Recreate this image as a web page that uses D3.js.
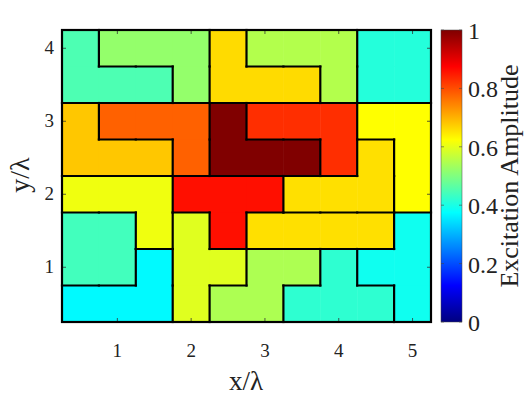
<!DOCTYPE html>
<html>
<head>
<meta charset="utf-8">
<script src="https://cdn.jsdelivr.net/npm/d3@7"></script>
<style>
  body { margin: 0; background: #fff; }
  text { font-family: "Liberation Serif", "DejaVu Serif", serif; fill: #222; }
</style>
</head>
<body>
<div id="chart-area"></div>
<script>
// tile layout, one letter per 0.5 lambda cell, top row first
var layout = [
  "ABBBCDDDEE",
  "AAABCCCDEE",
  "FGGGHIIIJJ",
  "FFFGHHHIKJ",
  "LLLMMMKKKJ",
  "NNLOMPPPPS",
  "NNQOORRTSS",
  "QQQORRTTTS"
];
var regionIds  = ["A","B","C","D","E","F","G","H","I","J","K","L","M","N","O","P","Q","R","S","T"];
var amplitudes = [0.45,0.52,0.66,0.55,0.41,0.68,0.78,1.0,0.83,0.625,0.655,0.61,0.86,0.44,0.595,0.655,0.37,0.545,0.39,0.42];

var xTicks = [1, 2, 3, 4, 5];
var yTicks = [1, 2, 3, 4];
var cbTicks = [0, 0.2, 0.4, 0.6, 0.8, 1];
var cbTickLabels = ["0", "0.2", "0.4", "0.6", "0.8", "1"];

var width = 532, height = 399;
var cellSize = 0.5, x0 = 0.25, y0 = 4.25;

// MATLAB style jet colormap
function jet(v) {
  var c = function(t) { return Math.round(255 * Math.max(0, Math.min(1, t))); };
  var r = Math.min(4*v - 1.5, -4*v + 4.5),
      g = Math.min(4*v - 0.5, -4*v + 3.5),
      b = Math.min(4*v + 0.5, -4*v + 2.5);
  return "rgb(" + c(r) + "," + c(g) + "," + c(b) + ")";
}

var ampOf = {};
regionIds.forEach((id, i) => { ampOf[id] = amplitudes[i]; });

var xScale = d3.scaleLinear().domain([0.25, 5.25]).range([62, 431]);
var yScale = d3.scaleLinear().domain([0.25, 4.25]).range([322, 30]);
var cbScale = d3.scaleLinear().domain([0, 1]).range([322, 30]);

var svg = d3.select("#chart-area")
    .append("svg")
    .attr("width", width)
    .attr("height", height);

// cells
var cells = [];
layout.forEach((row, r) => {
  row.split("").forEach((id, c) => {
    cells.push({ r: r, c: c, id: id });
  });
});

svg.append("g").selectAll("rect")
  .data(cells)
  .enter().append("rect")
  .attr("x", d => xScale(x0 + d.c*cellSize))
  .attr("y", d => yScale(y0 - d.r*cellSize))
  .attr("width", d => xScale(x0 + (d.c+1)*cellSize) - xScale(x0 + d.c*cellSize) + 0.5)
  .attr("height", d => yScale(y0 - (d.r+1)*cellSize) - yScale(y0 - d.r*cellSize) + 0.5)
  .attr("fill", d => jet(ampOf[d.id]));

// tile borders where neighbouring cells differ
var segs = [];
cells.forEach(d => {
  var xl = x0 + d.c*cellSize, xr = xl + cellSize;
  var yt = y0 - d.r*cellSize, yb = yt - cellSize;
  if (d.c < 9 && layout[d.r][d.c+1] !== d.id) segs.push([xr, yt, xr, yb]);
  if (d.r < 7 && layout[d.r+1][d.c] !== d.id) segs.push([xl, yb, xr, yb]);
});

// axis ticks (inside)
var tickG = svg.append("g").attr("stroke", "#333").attr("stroke-width", 0.8);
xTicks.forEach(t => {
  tickG.append("line").attr("x1", xScale(t)).attr("x2", xScale(t)).attr("y1", 322).attr("y2", 318);
  tickG.append("line").attr("x1", xScale(t)).attr("x2", xScale(t)).attr("y1", 30).attr("y2", 34);
});
yTicks.forEach(t => {
  tickG.append("line").attr("y1", yScale(t)).attr("y2", yScale(t)).attr("x1", 62).attr("x2", 66);
  tickG.append("line").attr("y1", yScale(t)).attr("y2", yScale(t)).attr("x1", 431).attr("x2", 427);
});

svg.append("g").selectAll("line")
  .data(segs)
  .enter().append("line")
  .attr("x1", d => xScale(d[0])).attr("y1", d => yScale(d[1]))
  .attr("x2", d => xScale(d[2])).attr("y2", d => yScale(d[3]))
  .attr("stroke", "#000")
  .attr("stroke-width", 2.2)
  .attr("stroke-linecap", "square");

svg.append("rect")
  .attr("x", 62).attr("y", 30)
  .attr("width", 431 - 62).attr("height", 322 - 30)
  .attr("fill", "none")
  .attr("stroke", "#000")
  .attr("stroke-width", 2.2);

// tick labels
svg.append("g").selectAll("text")
  .data(xTicks).enter().append("text")
  .attr("x", d => xScale(d))
  .attr("y", 357)
  .attr("text-anchor", "middle")
  .attr("font-size", "19px")
  .text(d => d);

svg.append("g").selectAll("text")
  .data(yTicks).enter().append("text")
  .attr("x", 54)
  .attr("y", d => yScale(d) + 6)
  .attr("text-anchor", "end")
  .attr("font-size", "19px")
  .text(d => d);

// axis labels
svg.append("text")
  .attr("x", 246).attr("y", 390)
  .attr("text-anchor", "middle")
  .attr("font-size", "27px")
  .text("x/\u03bb");

svg.append("text")
  .attr("transform", "translate(29,175) rotate(-90)")
  .attr("text-anchor", "middle")
  .attr("font-size", "28px")
  .text("y/\u03bb");

// colorbar
var defs = svg.append("defs");
var grad = defs.append("linearGradient")
  .attr("id", "jetGrad")
  .attr("x1", 0).attr("y1", 1).attr("x2", 0).attr("y2", 0);
d3.range(0, 65).forEach(i => {
  var v = i / 64;
  grad.append("stop").attr("offset", v).attr("stop-color", jet(v));
});

svg.append("rect")
  .attr("x", 441).attr("y", cbScale(1))
  .attr("width", 21).attr("height", cbScale(0) - cbScale(1))
  .attr("fill", "url(#jetGrad)")
  .attr("stroke", "#444")
  .attr("stroke-width", 0.5);

var cbTickG = svg.append("g").attr("stroke", "#444").attr("stroke-width", 0.6);
cbTicks.forEach(t => {
  cbTickG.append("line").attr("x1", 462).attr("x2", 459).attr("y1", cbScale(t)).attr("y2", cbScale(t));
  cbTickG.append("line").attr("x1", 441).attr("x2", 444).attr("y1", cbScale(t)).attr("y2", cbScale(t));
});

svg.append("g").selectAll("text")
  .data(cbTicks).enter().append("text")
  .attr("x", 468)
  .attr("y", d => cbScale(d) + 9)
  .attr("font-size", "24px")
  .text((d, i) => cbTickLabels[i]);

svg.append("text")
  .attr("transform", "translate(518,176) rotate(-90)")
  .attr("text-anchor", "middle")
  .attr("font-size", "26px")
  .text("Excitation Amplitude");
</script>
</body>
</html>
